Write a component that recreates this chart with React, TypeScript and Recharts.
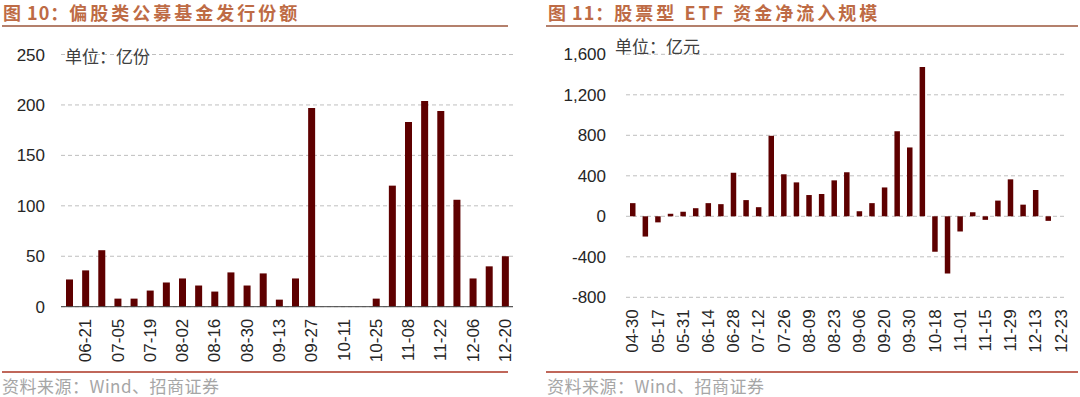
import React from "react";
import { BarChart, Bar, XAxis, YAxis, CartesianGrid } from "recharts";

const leftDates = [
  "06-14", "06-21", "06-28", "07-05", "07-12", "07-19", "07-26", "08-02", "08-09", "08-16",
  "08-23", "08-30", "09-06", "09-13", "09-20", "09-27", "10-04", "10-11", "10-18", "10-25",
  "11-01", "11-08", "11-15", "11-22", "11-29", "12-06", "12-13", "12-20",
];
const leftValues = [
  27, 36, 56, 8, 8, 16, 24, 28, 21, 15,
  34, 21, 33, 7, 28, 197, 0, 0, 0, 8,
  120, 183, 204, 194, 106, 28, 40, 50,
];
const leftTicks = [0, 50, 100, 150, 200, 250];

const rightDates = [
  "04-30", "05-10", "05-17", "05-24", "05-31", "06-07", "06-14", "06-21", "06-28", "07-05",
  "07-12", "07-19", "07-26", "08-02", "08-09", "08-16", "08-23", "08-30", "09-06", "09-13",
  "09-20", "09-27", "09-30", "10-11", "10-18", "10-25", "11-01", "11-08", "11-15", "11-22",
  "11-29", "12-06", "12-13", "12-20", "12-23",
];
const rightValues: (number | null)[] = [
  130, -200, -60, 25, 45, 80, 130, 120, 430, 160,
  90, 795, 415, 335, 210, 220, 355, 435, 50, 130,
  285, 840, 680, 1475, -350, -565, -150, 40, -35, 155,
  365, 115, 260, -45, null,
];
const rightTicks = [-800, -400, 0, 400, 800, 1200, 1600];

const leftData = leftDates.map((d, i) => ({ date: d, value: leftValues[i] }));
const rightData = rightDates.map((d, i) => ({ date: d, value: rightValues[i] }));

const BAR = "#5E0000";
const TICK_FONT = "'Liberation Sans', Arial, sans-serif";
const CJK = "'Noto Sans CJK SC', sans-serif";

function makeTick(parity: number) {
  return (props: any) => {
    const { x, y, payload, index } = props;
    if (index % 2 !== parity) return <g />;
    return (
      <g transform={`translate(${x},${y})`}>
        <text
          transform="rotate(-90)"
          x={-12}
          y={0}
          dy="0.36em"
          textAnchor="end"
          fontSize={17}
          fontFamily={TICK_FONT}
          fill="#262626"
        >
          {payload.value}
        </text>
      </g>
    );
  };
}

const titleStyle: React.CSSProperties = {
  position: "absolute",
  top: 0,
  fontFamily: CJK,
  fontWeight: 700,
  fontSize: 18,
  color: "#BE6B45",
  whiteSpace: "nowrap",
  lineHeight: "24px",
};
const footStyle: React.CSSProperties = {
  position: "absolute",
  top: 376,
  fontFamily: CJK,
  fontSize: 17,
  color: "#A6A6A6",
  whiteSpace: "nowrap",
  lineHeight: "20px",
  letterSpacing: 0.5,
};
const unitStyle: React.CSSProperties = {
  position: "absolute",
  fontFamily: CJK,
  fontSize: 17,
  color: "#404040",
  whiteSpace: "nowrap",
  lineHeight: "20px",
};

export default function App() {
  return (
    <div style={{ position: "absolute", left: 0, top: 0, width: 1080, height: 397, background: "#fff", overflow: "hidden" }}>
      <div style={{ ...titleStyle, left: 3 }}>
        <span style={{ letterSpacing: 1 }}>图 10：</span>
        <span style={{ letterSpacing: 3 }}>偏股类公募基金发行份额</span>
      </div>
      <div style={{ ...titleStyle, left: 548 }}>
        <span style={{ letterSpacing: 1 }}>图 11：</span>
        <span style={{ letterSpacing: 3 }}>股票型 ETF 资金净流入规模</span>
      </div>
      <div style={{ position: "absolute", left: 2, top: 25, width: 506, height: 2, background: "#B4806C" }} />
      <div style={{ position: "absolute", left: 546, top: 25, width: 532, height: 2, background: "#B4806C" }} />

      <div style={{ position: "absolute", left: 0, top: 0 }}>
        <BarChart width={540} height={397} data={leftData} margin={{ top: 54.5, right: 27, bottom: 30, left: 0 }}>
          <CartesianGrid vertical={false} stroke="#BFBFBF" strokeDasharray="4 3" />
          <YAxis
            domain={[0, 250]}
            ticks={leftTicks}
            width={61}
            axisLine={false}
            tickLine={false}
            tickSize={0}
            tickMargin={16}
            interval={0}
            tick={{ fontSize: 17, fontFamily: TICK_FONT, fill: "#262626" }}
          />
          <XAxis
            dataKey="date"
            height={60.3}
            interval={0}
            tickLine={false}
            tickSize={0}
            tickMargin={0}
            axisLine={{ stroke: "#404040", strokeWidth: 1 }}
            tick={makeTick(1)}
          />
          <Bar dataKey="value" fill={BAR} barSize={7} isAnimationActive={false} />
        </BarChart>
      </div>

      <div style={{ position: "absolute", left: 540, top: 0 }}>
        <BarChart width={540} height={397} data={rightData} margin={{ top: 54.3, right: 13.3, bottom: 40, left: 0 }}>
          <CartesianGrid vertical={false} stroke="#BFBFBF" strokeDasharray="4 3" />
          <YAxis
            domain={[-800, 1600]}
            ticks={rightTicks}
            width={86}
            axisLine={false}
            tickLine={false}
            tickSize={0}
            tickMargin={20}
            interval={0}
            tickFormatter={(v: number) => v.toLocaleString("en-US")}
            tick={{ fontSize: 17, fontFamily: TICK_FONT, fill: "#262626" }}
          />
          <XAxis
            dataKey="date"
            height={59.7}
            interval={0}
            tickLine={false}
            tickSize={0}
            tickMargin={0}
            axisLine={false}
            tick={makeTick(0)}
          />
          <Bar dataKey="value" fill={BAR} barSize={5.5} isAnimationActive={false} />
        </BarChart>
      </div>

      <div style={{ ...unitStyle, left: 65, top: 46 }}>单位：亿份</div>
      <div style={{ ...unitStyle, left: 615, top: 36 }}>单位：亿元</div>

      <div style={{ position: "absolute", left: 2, top: 371, width: 506, height: 2, background: "#C0675A" }} />
      <div style={{ position: "absolute", left: 546, top: 371, width: 532, height: 2, background: "#C0675A" }} />
      <div style={{ ...footStyle, left: 2 }}>资料来源：Wind、招商证券</div>
      <div style={{ ...footStyle, left: 547 }}>资料来源：Wind、招商证券</div>
    </div>
  );
}
